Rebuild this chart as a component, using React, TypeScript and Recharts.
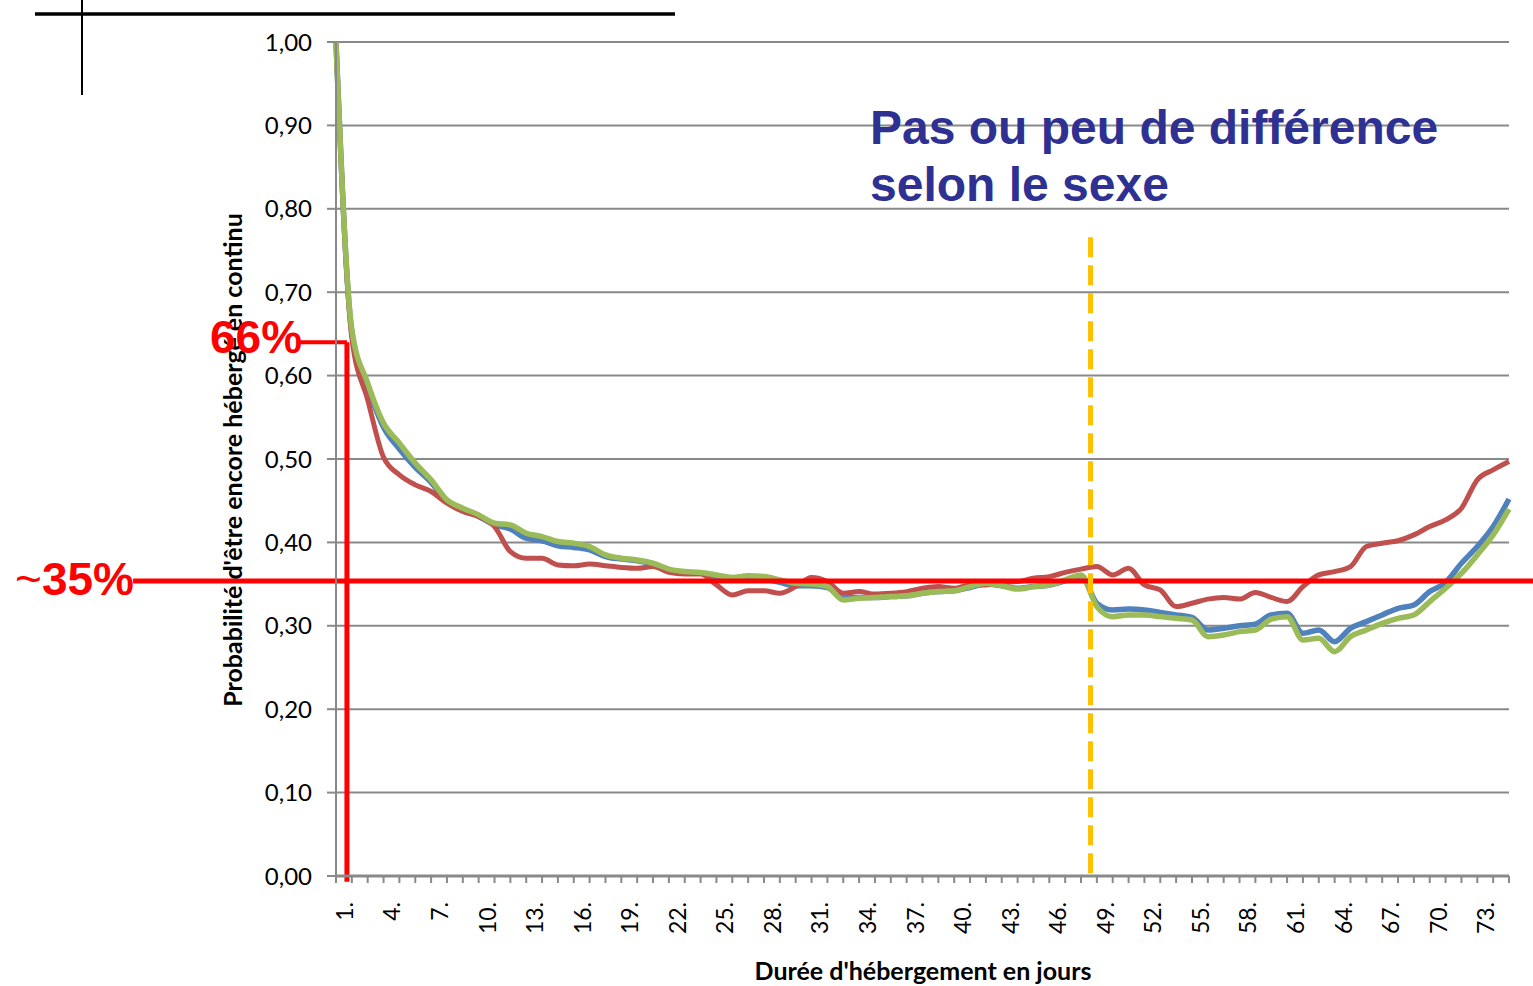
import { LineChart, Line, XAxis, YAxis, CartesianGrid, ReferenceLine } from 'recharts'

// probability of still being housed, by day index 0..74
const blue = [
  1.0, 0.652, 0.587, 0.538, 0.512, 0.49, 0.472, 0.449, 0.439, 0.431,
  0.421, 0.416, 0.405, 0.402, 0.396, 0.394, 0.391, 0.383, 0.38, 0.378,
  0.374, 0.367, 0.364, 0.363, 0.359, 0.356, 0.357, 0.356, 0.352, 0.348,
  0.348, 0.346, 0.333, 0.334, 0.334, 0.335, 0.336, 0.339, 0.341, 0.342,
  0.346, 0.35, 0.348, 0.345, 0.347, 0.349, 0.354, 0.36, 0.327, 0.319,
  0.32, 0.319, 0.316, 0.313, 0.31, 0.295, 0.297, 0.3, 0.302, 0.313,
  0.315, 0.291, 0.295, 0.281, 0.297, 0.305, 0.313, 0.321, 0.325, 0.341,
  0.352, 0.375, 0.395, 0.419, 0.452,
]
const red = [
  1.0, 0.645, 0.571, 0.502, 0.481, 0.469, 0.461, 0.447, 0.437, 0.431,
  0.419, 0.389, 0.381, 0.381, 0.373, 0.372, 0.374, 0.372, 0.37, 0.369,
  0.371, 0.364, 0.362, 0.362, 0.349, 0.337, 0.342, 0.342, 0.339, 0.347,
  0.358, 0.353, 0.339, 0.341, 0.338, 0.339, 0.341, 0.345, 0.347, 0.345,
  0.349, 0.349, 0.352, 0.353, 0.357, 0.359, 0.364, 0.368, 0.371, 0.361,
  0.369, 0.349, 0.343, 0.323, 0.327, 0.332, 0.334, 0.332, 0.34, 0.334,
  0.329, 0.347, 0.361, 0.365, 0.371, 0.395, 0.399, 0.402, 0.409, 0.419,
  0.427, 0.441, 0.475, 0.487, 0.497,
]
const green = [
  1.0, 0.655, 0.591, 0.543, 0.519, 0.495, 0.475, 0.451, 0.441, 0.433,
  0.423, 0.421, 0.411, 0.407, 0.401, 0.399, 0.395, 0.385, 0.381, 0.379,
  0.375, 0.368, 0.365, 0.364, 0.361, 0.358, 0.36, 0.359, 0.355, 0.351,
  0.35, 0.347, 0.331, 0.333, 0.334, 0.335, 0.336, 0.339, 0.341, 0.342,
  0.347, 0.351, 0.348, 0.344, 0.347, 0.349, 0.355, 0.361, 0.323, 0.311,
  0.313, 0.313, 0.311, 0.309, 0.307, 0.287, 0.289, 0.293, 0.295, 0.308,
  0.311, 0.283, 0.285, 0.269, 0.287, 0.295, 0.303, 0.309, 0.313, 0.329,
  0.345, 0.363, 0.385, 0.409, 0.44,
]

const dayLabels = [
  '1.', '4.', '7.', '10.', '13.', '16.', '19.', '22.', '25.', '28.', '31.', '34.', '37.',
  '40.', '43.', '46.', '49.', '52.', '55.', '58.', '61.', '64.', '67.', '70.', '73.',
]
const yTicks = [0, 0.1, 0.2, 0.3, 0.4, 0.5, 0.6, 0.7, 0.8, 0.9, 1.0]

// annotation positions (in data units)
const level35 = 0.3537
const level66 = 0.64
const mark66Day = 0.69
const cutDay = 47.6
const cutTop = 0.766

const data = blue.map((v, i) => ({ day: i, blue: v, red: red[i], green: green[i] }))
const xTicks = data.map((d) => d.day)
const lastDay = xTicks[xTicks.length - 1]

const W = 1533
const H = 986
const PLOT_LEFT = 336
const PLOT_RIGHT = 1509
const STEP = (PLOT_RIGHT - PLOT_LEFT) / lastDay
const GRID = '#898989'

function DayTick({ x, y, payload }: any) {
  const d = payload.value as number
  if (d % 3 !== 0 || d / 3 >= dayLabels.length) return <g />
  return (
    <text
      transform={`translate(${x + STEP / 2},${y + 17}) rotate(-90)`}
      textAnchor="end"
      dominantBaseline="central"
      fontSize={23}
      fontFamily="Lato"
      fill="#000"
    >
      {dayLabels[d / 3]}
    </text>
  )
}

const fmt = (v: number) => v.toFixed(2).replace('.', ',')

export default function App() {
  return (
    <div style={{ position: 'relative', width: W, height: H, background: '#fff' }}>
      <style>{'body{margin:0}'}</style>
      <div style={{ position: 'absolute', left: 0, top: 0 }}>
        <LineChart width={W} height={H} data={data} margin={{ top: 42, right: W - PLOT_RIGHT, bottom: 0, left: 0 }}>
          <CartesianGrid vertical={false} stroke={GRID} strokeWidth={2} />
          <XAxis
            dataKey="day"
            type="number"
            domain={[0, lastDay]}
            ticks={xTicks}
            interval={0}
            height={110}
            tickSize={7}
            tick={<DayTick />}
            tickLine={{ stroke: GRID, strokeWidth: 2 }}
            axisLine={{ stroke: GRID, strokeWidth: 3 }}
          />
          <YAxis
            domain={[0, 1]}
            ticks={yTicks}
            interval={0}
            width={PLOT_LEFT}
            tickSize={9}
            tickMargin={15}
            tickFormatter={fmt}
            tick={{ fontSize: 24, fontFamily: 'Lato', fill: '#000' }}
            tickLine={{ stroke: GRID, strokeWidth: 2 }}
            axisLine={{ stroke: GRID, strokeWidth: 2 }}
          />
          <Line dataKey="blue" type="monotone" stroke="#4F81BD" strokeWidth={5.5} dot={false} isAnimationActive={false} />
          <Line dataKey="red" type="monotone" stroke="#C0504D" strokeWidth={5} dot={false} isAnimationActive={false} />
          <Line dataKey="green" type="monotone" stroke="#9BBB59" strokeWidth={5.5} dot={false} isAnimationActive={false} />
          <ReferenceLine
            segment={[{ x: -12.8, y: level35 }, { x: lastDay + 1.6, y: level35 }]}
            stroke="#FF0000"
            strokeWidth={5}
            ifOverflow="visible"
          />
          <ReferenceLine
            segment={[{ x: -2.27, y: level66 }, { x: mark66Day, y: level66 }]}
            stroke="#FF0000"
            strokeWidth={4}
            ifOverflow="visible"
          />
          <ReferenceLine
            segment={[{ x: mark66Day, y: level66 }, { x: mark66Day, y: -0.007 }]}
            stroke="#FF0000"
            strokeWidth={5}
            ifOverflow="visible"
          />
          <ReferenceLine
            segment={[{ x: cutDay, y: cutTop }, { x: cutDay, y: -0.003 }]}
            stroke="#FFC000"
            strokeWidth={5}
            strokeDasharray="20 8"
            ifOverflow="visible"
          />
        </LineChart>
      </div>
      <svg width={W} height={H} style={{ position: 'absolute', left: 0, top: 0, pointerEvents: 'none' }}>
        <line x1={35} y1={14} x2={675} y2={14} stroke="#000" strokeWidth={3.5} />
        <line x1={82} y1={0} x2={82} y2={95} stroke="#000" strokeWidth={2} />
        <text
          transform="translate(242,460) rotate(-90)"
          textAnchor="middle"
          fontFamily="Lato"
          fontWeight="bold"
          fontSize={25}
          fill="#000"
        >
          Probabilité d'être encore hébergé en continu
        </text>
        <text x={923} y={980} textAnchor="middle" fontFamily="Lato" fontWeight="bold" fontSize={25} fill="#000">
          Durée d'hébergement en jours
        </text>
        <text fontFamily="'Liberation Sans', Arial" fontWeight="bold" fontSize={48} fill="#2E3192">
          <tspan x={870} y={144}>Pas ou peu de différence</tspan>
          <tspan x={870} y={201}>selon le sexe</tspan>
        </text>
        <text x={210} y={353} fontFamily="'Liberation Sans', Arial" fontWeight="bold" fontSize={46} fill="#FF0000">
          66%
        </text>
        <text x={15} y={595} fontFamily="'Liberation Sans', Arial" fontSize={46} fill="#FF0000">
          ~<tspan fontWeight="bold">35%</tspan>
        </text>
      </svg>
    </div>
  )
}
